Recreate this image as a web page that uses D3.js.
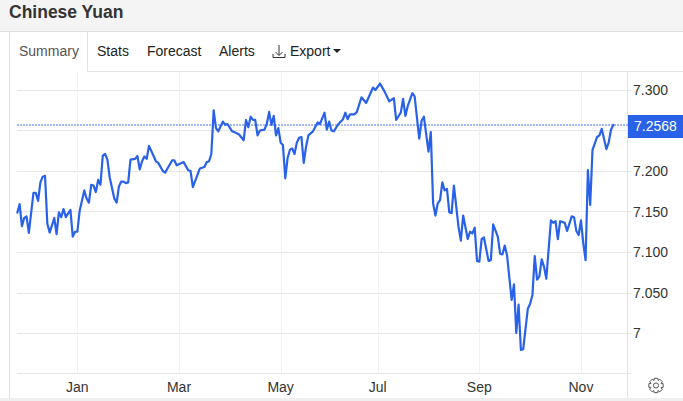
<!DOCTYPE html>
<html>
<head>
<meta charset="utf-8">
<script src="https://cdn.jsdelivr.net/npm/d3@7/dist/d3.min.js"></script>
<style>
  html, body { margin: 0; padding: 0; background: #fff; overflow: hidden; }
  svg { display: block; font-family: "Liberation Sans", Arial, sans-serif; }
</style>
</head>
<body>
<svg id="chart" width="683" height="401"></svg>
<script>
// Session number of each reading, counted in trading days from the left edge
const sessions = [0,1,2,3,4,5,7,8,9,10,11,12,13,14,16,17,18,19,20,21,23,24,25,26,27,29,30,31,32,33,34,35,36,37,38,39,40,42,43,44,45,46,47,48,49,51,52,53,54,55,56,57,59,60,61,63,64,65,67,68,69,72,74,75,76,79,81,82,83,84,85,86,87,89,90,91,93,94,96,98,99,100,101,102,103,104,105,107,108,109,110,111,112,113,114,115,116,117,118,119,120,121,122,123,124,125,126,128,130,131,133,134,135,136,137,139,141,142,143,144,146,147,149,151,154,155,157,159,161,163,164,166,167,168,169,171,172,174,175,176,178,179,180,181,182,183,184,185,186,187,188,189,191,192,193,195,196,197,198,199,200,201,202,204,205,206,208,209,210,211,212,214,215,216,217,218,219,221,222,223,224,225,226,227,228,229,231,232,233,234,235,237,238,240,241,242,243,244,245,246,247,248,249,251,252,253,255,256,257,258];

// USD/CNY rate at each of those sessions
const rates = [7.1485,7.159,7.132,7.142,7.144,7.1235,7.173,7.173,7.163,7.186,7.193,7.194,7.135,7.124,7.142,7.122,7.149,7.143,7.153,7.143,7.152,7.119,7.125,7.125,7.151,7.176,7.166,7.161,7.183,7.182,7.174,7.189,7.183,7.219,7.221,7.214,7.192,7.166,7.161,7.181,7.187,7.187,7.185,7.186,7.214,7.215,7.2185,7.202,7.212,7.218,7.215,7.231,7.2185,7.212,7.21,7.2,7.198,7.203,7.213,7.213,7.207,7.211,7.201,7.2,7.18,7.203,7.205,7.211,7.212,7.221,7.275,7.253,7.249,7.261,7.257,7.258,7.249,7.248,7.245,7.238,7.263,7.254,7.267,7.263,7.263,7.244,7.25,7.251,7.258,7.273,7.257,7.268,7.244,7.253,7.235,7.232,7.191,7.216,7.226,7.228,7.221,7.235,7.241,7.242,7.21,7.23,7.244,7.249,7.26,7.258,7.272,7.251,7.261,7.25,7.249,7.258,7.264,7.272,7.264,7.27,7.27,7.273,7.291,7.284,7.303,7.3,7.308,7.298,7.286,7.29,7.263,7.272,7.289,7.268,7.28,7.296,7.292,7.24,7.262,7.267,7.224,7.248,7.16,7.145,7.16,7.164,7.186,7.176,7.178,7.149,7.148,7.182,7.131,7.114,7.145,7.116,7.125,7.123,7.13,7.089,7.088,7.116,7.118,7.089,7.09,7.134,7.119,7.098,7.097,7.108,7.096,7.041,7.06,7.0,7.035,6.979,6.98,7.03,7.036,7.047,7.095,7.066,7.07,7.091,7.082,7.067,7.139,7.136,7.138,7.116,7.138,7.136,7.126,7.144,7.143,7.126,7.121,7.139,7.111,7.09,7.201,7.158,7.226,7.242,7.244,7.252,7.227,7.235,7.251,7.2568];

const lastRate = 7.2568;
const yTickValues = [7, 7.05, 7.1, 7.15, 7.2, 7.25, 7.3];
const yTickLabels = ["7", "7.050", "7.100", "7.150", "7.200", "", "7.300"];
const monthSessions = [26, 70, 114, 156, 200, 244];
const monthLabels = ["Jan", "Mar", "May", "Jul", "Sep", "Nov"];
const tabs = ["Stats", "Forecast", "Alerts"];
const tabPositions = [97, 147, 219];

const svg = d3.select("#chart");
const INK = "#333";
const RULE = "#e6e6e6";
const BLUE = "#2962e8";

const plot = { left: 17, right: 627, top: 72, bottom: 374 };

const x = d3.scaleLinear().domain([0, 258]).range([17.3, 613.3]);
const y = d3.scaleLinear().domain([7, 7.3]).range([333, 90]);

// Page header band and tab strip
svg.append("rect").attr("width", 683).attr("height", 31).attr("fill", "#f4f4f4");
svg.append("line").attr("x1", 0).attr("x2", 683).attr("y1", 31.5).attr("y2", 31.5).attr("stroke", "#dedede");
svg.append("text").attr("x", 9).attr("y", 18).attr("font-size", 17.5).attr("font-weight", 700)
  .attr("fill", "#333").text("Chinese Yuan");

svg.append("line").attr("x1", 87.5).attr("x2", 683).attr("y1", 71.5).attr("y2", 71.5).attr("stroke", "#e4e4e4");
svg.append("path").attr("d", "M9.5,401V32M87.5,32V71.5").attr("fill", "none").attr("stroke", "#e2e2e2");
svg.append("text").attr("x", 19).attr("y", 56).attr("font-size", 14).attr("fill", "#555").text("Summary");

svg.selectAll("text.tab").data(tabs).join("text").attr("class", "tab")
  .attr("x", (d, i) => tabPositions[i]).attr("y", 56)
  .attr("font-size", 14).attr("fill", "#222").text(d => d);

// Export menu: download glyph, label and caret
svg.append("path").attr("d", "M279,45V55M275.5,52L279,55.5L282.5,52M273,54V57.5H285V54")
  .attr("fill", "none").attr("stroke", "#333").attr("stroke-width", 1);
svg.append("text").attr("x", 290).attr("y", 56).attr("font-size", 14).attr("fill", "#222").text("Export");
svg.append("path").attr("d", "M333,49H341L337,53Z").attr("fill", "#222");

// Gridlines
svg.append("g").selectAll("line").data(yTickValues).join("line")
  .attr("x1", plot.left).attr("x2", plot.right + 4)
  .attr("y1", d => Math.round(y(d)) + 0.5).attr("y2", d => Math.round(y(d)) + 0.5)
  .attr("stroke", RULE);

svg.append("g").selectAll("line").data(monthSessions).join("line")
  .attr("x1", d => Math.round(x(d)) + 0.5).attr("x2", d => Math.round(x(d)) + 0.5)
  .attr("y1", plot.top).attr("y2", plot.bottom)
  .attr("stroke", "#f1f1f1");

// Chart frame
svg.append("line").attr("x1", plot.right + 0.5).attr("x2", plot.right + 0.5)
  .attr("y1", plot.top).attr("y2", 398).attr("stroke", "#e2e2e2");
svg.append("line").attr("x1", plot.left).attr("x2", plot.right + 4)
  .attr("y1", plot.bottom - 0.5).attr("y2", plot.bottom - 0.5).attr("stroke", RULE);
svg.append("rect").attr("x", 0).attr("y", 398).attr("width", 683).attr("height", 3).attr("fill", "#efefef");

// Axis labels
svg.append("g").selectAll("text").data(yTickValues.filter((d, i) => yTickLabels[i])).join("text")
  .attr("x", 633).attr("y", d => y(d) + 5)
  .attr("font-size", 14).attr("fill", "#333")
  .text(d => yTickLabels[yTickValues.indexOf(d)]);

svg.append("g").selectAll("text").data(monthSessions).join("text")
  .attr("x", d => x(d)).attr("y", 392).attr("text-anchor", "middle")
  .attr("font-size", 14).attr("fill", INK)
  .text((d, i) => monthLabels[i]);

// Last-price guide: a soft dotted rule straddling two pixel rows
const guideY = Math.round(y(lastRate));
svg.append("line").attr("x1", plot.left).attr("x2", plot.right + 1)
  .attr("y1", guideY).attr("y2", guideY)
  .attr("stroke", "#4a74f5").attr("stroke-width", 1.2).attr("stroke-dasharray", "2 1");

// Rate line
const line = d3.line().x(d => x(d)).y((d, i) => y(rates[i]));
svg.append("path").datum(sessions).attr("d", line)
  .attr("fill", "none").attr("stroke", BLUE).attr("stroke-width", 2.2)
  .attr("stroke-linejoin", "round").attr("stroke-linecap", "round");

// Last-price badge
svg.append("rect").attr("x", 628).attr("y", y(lastRate) - 10).attr("width", 55).attr("height", 23).attr("fill", BLUE);
svg.append("text").attr("x", 634).attr("y", y(lastRate) + 6)
  .attr("font-size", 14).attr("fill", "#fff").text(d3.format(".4f")(lastRate));

// Settings gear
const gear = svg.append("g").attr("transform", "translate(656,385.5)")
  .attr("fill", "none").attr("stroke", "#555").attr("stroke-width", 1);
gear.append("circle").attr("r", 2.6);
gear.append("path").attr("d", d3.range(8).map(k => {
  const a = k * Math.PI / 4 - Math.PI / 2;
  const point = (ang, r) => `${(r * Math.cos(ang)).toFixed(2)},${(r * Math.sin(ang)).toFixed(2)}`;
  return (k ? "L" : "M") + point(a - 0.25, 7.4) + "L" + point(a + 0.25, 7.4) + "L" + point(a + 0.42, 5.4);
}).join("") + "Z");
</script>
</body>
</html>
